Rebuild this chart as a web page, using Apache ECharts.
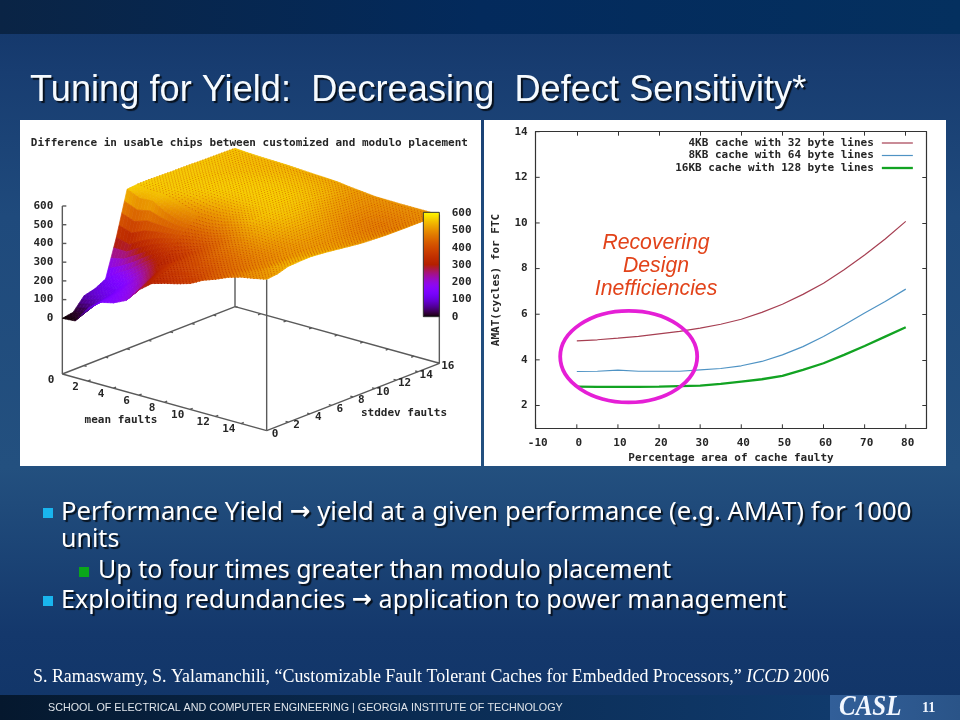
<!DOCTYPE html>
<html><head><meta charset="utf-8">
<style>html,body{margin:0;padding:0;background:#123a6e}#c{width:960px;height:720px}</style>
<script src="https://cdn.jsdelivr.net/npm/echarts@6/dist/echarts.min.js"></script>
</head><body><div id="c"></div>
<script>
// ---- right chart data
const faultPct=[0,5,10,15,20,25,30,35,40,45,50,55,60,65,70,75,80];
const amat4KB=[4.83,4.88,4.95,5.03,5.14,5.25,5.39,5.56,5.78,6.08,6.44,6.87,7.36,7.95,8.6,9.3,10.07];
const amat8KB=[3.49,3.5,3.55,3.5,3.5,3.5,3.56,3.62,3.74,3.93,4.22,4.58,5.02,5.53,6.05,6.56,7.1];
const amat16KB=[2.83,2.82,2.82,2.82,2.83,2.85,2.87,2.95,3.05,3.15,3.3,3.56,3.85,4.22,4.61,5.02,5.43];
const seriesNames=['4KB cache with 32 byte lines','8KB cache with 64 byte lines','16KB cache with 128 byte lines'];
const xTicks=[-10,0,10,20,30,40,50,60,70,80];
const yTicks=[2,4,6,8,10,12,14];
// ---- left chart data: rows are mean faults 0..16, columns stddev faults 0..16
const yieldDiff=[
[0,10,75,90,120,320,555,560,560,558,556,555,554,552,551,550,548],
[5,30,95,120,170,300,525,550,555,555,554,553,552,550,548,545,543],
[90,100,115,140,210,340,530,550,555,555,555,553,550,548,545,542,540],
[142,150,165,190,265,370,490,535,552,556,556,555,552,548,544,540,538],
[158,175,200,250,310,390,465,510,545,556,558,557,554,550,545,540,536],
[190,215,260,310,345,405,455,495,532,552,558,558,556,552,546,540,532],
[265,295,325,345,370,420,455,495,528,550,558,558,556,552,546,538,528],
[318,350,370,385,400,430,465,505,532,552,558,558,555,550,544,535,525],
[338,365,390,410,430,450,485,522,542,554,556,556,553,546,538,530,521],
[355,385,410,435,455,475,508,540,550,554,552,550,546,538,530,520,512],
[375,400,425,450,470,495,522,535,545,548,545,540,530,520,512,506,505],
[411,428,445,460,480,502,520,530,535,535,530,522,512,505,500,498,498],
[436,448,458,472,487,500,510,520,522,520,515,505,495,490,490,492,497],
[465,472,475,482,490,500,505,510,510,508,500,490,482,478,480,488,496],
[485,495,492,497,500,505,505,505,503,498,490,482,475,472,476,486,496],
[497,505,520,522,522,518,515,510,505,498,490,484,478,476,480,488,496],
[511,517,535,538,540,535,528,520,512,505,502,498,497,496,496,495,495]];
const meanTicks=[2,4,6,8,10,12,14];
const stddevTicks=[2,4,6,8,10,12,14,16];
const zTicks=[0,100,200,300,400,500,600];

const MONO='"DejaVu Sans Mono"', INK='#262626';
const ox=127,oy=762,mx=38.31,my=10.62,sx=32.4,sy=-12.63,zy=-0.5617,lift=-167;
const P=(m,s,z)=>[ox+mx*m+sx*s, oy+lift+my*m+sy*s+zy*z];
const floorP=(m,s)=>[ox+mx*m+sx*s, oy+my*m+sy*s];
function paletteRGB(v){v=Math.max(0,Math.min(1,v));
  return [Math.sqrt(v),v*v*v,Math.max(0,Math.sin(2*Math.PI*v))].map(c=>Math.round(c*255));}
const palette=v=>'rgb('+paletteRGB(v).join(',')+')';
const SUB=4;
const zAt=(m,s)=>{const i=Math.min(15,Math.floor(m)),j=Math.min(15,Math.floor(s)),a=m-i,b=s-j;
  return (1-a)*(1-b)*yieldDiff[i][j]+a*(1-b)*yieldDiff[i+1][j]+(1-a)*b*yieldDiff[i][j+1]+a*b*yieldDiff[i+1][j+1];};
const cells=[];
for(let m=0;m<16;m++)for(let s=15;s>=0;s--)cells.push([m,s]);

function line(api,a,b,w,c){const p=api.coord(a),q=api.coord(b);
  return {type:'line',shape:{x1:p[0],y1:p[1],x2:q[0],y2:q[1]},style:{stroke:c||'#5a5a5a',lineWidth:w||1.4}};}
function label(api,t,at,align,size){const p=api.coord(at);
  return {type:'text',x:p[0],y:p[1],style:{text:String(t),fill:INK,font:'bold '+(size||11)+'px '+MONO,align:align||'center',verticalAlign:'middle'}};}

function renderFrame(params,api){
  const ch=[];
  const C=[floorP(0,0),floorP(16,0),floorP(16,16),floorP(0,16)];
  for(let i=0;i<4;i++)ch.push(line(api,C[i],C[(i+1)%4]));
  meanTicks.forEach(m=>{
    const a=floorP(m,0);ch.push(line(api,a,[a[0]+8,a[1]-3.2]));
    const b=floorP(m,16);ch.push(line(api,b,[b[0]-8,b[1]+3.2]));
    ch.push(label(api,m,[a[0]-37,a[1]+18]));});
  stddevTicks.forEach(s=>{
    const a=floorP(0,s);ch.push(line(api,a,[a[0]+8,a[1]+2.2]));
    const b=floorP(16,s);ch.push(line(api,b,[b[0]-8,b[1]-2.2]));
    ch.push(label(api,s,[b[0]+25,b[1]+10]));});
  ch.push(label(api,0,[93,780]),label(api,0,[765,943]));
  ch.push(line(api,[127,762],[127,258]),line(api,[740,932],[740,478]),line(api,[1258,730],[1258,285]),line(api,[645,560],[645,468]));
  zTicks.forEach(z=>{const p=[127,595+zy*z];ch.push(line(api,p,[p[0]+12,p[1]]));ch.push(label(api,z,[100,p[1]],'right'));});
  ch.push(label(api,'mean faults',[303,900]),label(api,'stddev faults',[1152,878]));
  ch.push(label(api,'Difference in usable chips between customized and modulo placement',[688,68]));
  return {type:'group',children:ch};
}
function renderSurface(params,api){
  const m0=api.value(0),s0=api.value(1),ch=[];
  for(let a=0;a<SUB;a++)for(let b=SUB-1;b>=0;b--){
    const q=[[a,b],[a+1,b],[a+1,b+1],[a,b+1]].map(([u,v])=>{const m=m0+u/SUB,s=s0+v/SUB;return [m,s,zAt(m,s)];});
    const pts=q.map(([m,s,z])=>api.coord(P(m,s,z)));
    const zm=(q[0][2]+q[1][2]+q[2][2]+q[3][2])/4,col=palette(zm/600);
    ch.push({type:'polygon',shape:{points:pts},style:{fill:col,stroke:col,lineWidth:0.7}});
  }
  return {type:'group',children:ch};
}
function renderDots(params,api){
  const m0=api.value(0),s0=api.value(1),ch=[];
  if((m0<5&&s0<7)||(m0<7&&s0<3))return {type:'group',children:ch};
  for(let a=0;a<SUB;a++)for(let b=0;b<SUB;b++){
    const m=m0+a/SUB,s=s0+b/SUB,z=zAt(m,s),p=api.coord(P(m,s,z)),c=paletteRGB(z/600);
    ch.push({type:'rect',shape:{x:p[0]-.5,y:p[1]-.5,width:1,height:1},
      style:{fill:'rgb('+Math.round(c[0]*.9)+','+Math.round(c[1]*.65)+','+c[2]+')'}});
  }
  return {type:'group',children:ch};
}
function renderBar(params,api){
  const tl=api.coord([1210,277]),br=api.coord([1258,590]);
  const stops=[];for(let i=0;i<=40;i++)stops.push({offset:i/40,color:palette(1-i/40)});
  const ch=[{type:'rect',shape:{x:tl[0],y:tl[1],width:br[0]-tl[0],height:br[1]-tl[1]},
    style:{fill:new echarts.graphic.LinearGradient(0,0,0,1,stops),stroke:'#333',lineWidth:1}}];
  zTicks.forEach(z=>{const y=590-(z/600)*310;ch.push(label(api,z,[1295,y],'left'));});
  return {type:'group',children:ch};
}
// inward tick marks along the bottom and left edges of the line chart
function renderInnerTicks(params,api){
  const ch=[],TL=4;
  const mark=(p,dx,dy)=>({type:'line',shape:{x1:p[0],y1:p[1],x2:p[0]+dx,y2:p[1]+dy},style:{stroke:'#333',lineWidth:1}});
  xTicks.forEach(x=>ch.push(mark(api.coord([x,1]),0,-TL)));
  yTicks.forEach(y=>ch.push(mark(api.coord([-10,y]),TL,0)));
  return {type:'group',children:ch};
}

const slideText={
 title:'Tuning for Yield:  Decreasing  Defect Sensitivity*',
 b1b:'units',
 b2:'Up to four times greater than modulo placement',
 foot:'SCHOOL OF ELECTRICAL AND COMPUTER ENGINEERING | GEORGIA INSTITUTE OF TECHNOLOGY',
 note:'Recovering\nDesign\nInefficiencies'};
const SHADOW={textShadowColor:'rgba(0,0,0,0.75)',textShadowOffsetX:2,textShadowOffsetY:2,textShadowBlur:1};
const T=(text,x,y,font,extra,scale)=>({type:'text',x,y,scaleX:scale||1,z:10,silent:true,style:Object.assign({text,fill:'#fff',font,verticalAlign:'middle'},extra||{})});
const R=(x,y,w,h,fill,z)=>({type:'rect',shape:{x,y,width:w,height:h},z:z===undefined?-5:z,silent:true,style:{fill}});
const G=(a,b,c,d,stops)=>new echarts.graphic.LinearGradient(a,b,c,d,stops);
const BODY='"Noto Sans"';
const arrowRich={t:Object.assign({fill:'#fff',font:'25px '+BODY},SHADOW),r:Object.assign({fill:'#fff',font:'bold 24px "DejaVu Sans"'},SHADOW)};
const RT=(text,x,y,sx)=>({type:'text',x,y,scaleX:sx||1,z:10,silent:true,style:{text,verticalAlign:'middle',rich:arrowRich}});

const graphics=[
 R(0,0,960,720,G(0,0,0,1,[{offset:0,color:'#123568'},{offset:.1,color:'#183d71'},{offset:.3,color:'#1f4a7c'},{offset:.65,color:'#23507f'},{offset:.88,color:'#14386c'},{offset:1,color:'#113568'}]),-10),
 R(0,0,960,34,G(0,0,1,0,[{offset:0,color:'#0a2445'},{offset:.5,color:'#032a5c'},{offset:1,color:'#04305f'}]),-9),
 R(0,695,830,25,G(0,0,1,0,[{offset:0,color:'#05182e'},{offset:.5,color:'#0a2b52'},{offset:1,color:'#103a6c'}]),-9),
 R(830,695,130,25,G(0,0,1,0,[{offset:0,color:'#325f99'},{offset:1,color:'#2a5488'}]),-9),
 R(20,120,461,346,'#ffffff',-8),
 R(484,120,462,346,'#ffffff',-8),
 T(slideText.title,30,91.5,'36px "Liberation Sans"',Object.assign({fill:'#f6fbff'},SHADOW),1.006),
 R(43,508,10,10,'#19b5ee',9),
 RT('{t|Performance Yield }{r|\u2192}{t| yield at a given performance (e.g. AMAT) for 1000}',61,513,1.03),
 T(slideText.b1b,61,540,'25px '+BODY,SHADOW),
 R(79,567,10,10,'#0aa61a',9),
 T(slideText.b2,98,571,'25px '+BODY,SHADOW),
 R(43,596,10,10,'#19b5ee',9),
 RT('{t|Exploiting redundancies }{r|\u2192}{t| application to power management}',61,601,1.005),
 {type:'text',x:33,y:677,z:10,silent:true,style:{verticalAlign:'middle',
   text:'{a|S. Ramaswamy, S. Yalamanchili, \u201cCustomizable Fault Tolerant Caches for Embedded Processors,\u201d }{b|ICCD}{a| 2006}',
   rich:{a:{fill:'#fff',font:'17.9px "Liberation Serif"'},b:{fill:'#fff',font:'italic 17.9px "Liberation Serif"'}}}},
 T(slideText.foot,48,708,'10.75px "Liberation Sans"',{fill:'#dfe4ea'}),
 T('CASL',839,708,'italic bold 29px "Liberation Serif"',{fill:'#f2f7ff',textShadowColor:'rgba(0,0,30,.8)',textShadowOffsetX:1.5,textShadowOffsetY:1.5},0.86),
 T('11',922,708,'bold 14px "Liberation Serif"',{fill:'#f2f7ff'}),
 T(slideText.note,656,266,'italic 21.2px "Liberation Sans"',{fill:'#e2431a',align:'center',lineHeight:23}),
 {type:'ellipse',shape:{cx:628.7,cy:356.6,rx:68.5,ry:45.8},z:11,silent:true,style:{fill:'none',stroke:'#e51fd6',lineWidth:3.8}}
];

const axisFont={color:INK,fontFamily:MONO,fontWeight:'bold',fontSize:11};
const axisLine={show:true,onZero:false,lineStyle:{color:'#333',width:1.2}};
const tick=(vals)=>({show:true,inside:true,length:4,customValues:vals,lineStyle:{color:'#333',width:1}});
const legendLine=(name,width)=>({name,lineStyle:{width}});

const option={
 animation:false,
 graphic:graphics,
 grid:[{left:535.7,top:131.7,width:390.6,height:296.6},{left:20,top:120,width:462,height:346}],
 legend:{orient:'vertical',align:'right',right:46,top:137.5,padding:0,itemWidth:31,itemHeight:12.5,itemGap:1.5,
   data:[legendLine(seriesNames[0],1.2),legendLine(seriesNames[1],1.2),legendLine(seriesNames[2],2.3)],
   textStyle:Object.assign({padding:[0,3,0,0]},axisFont),selectedMode:false,itemStyle:{opacity:0}},
 xAxis:[
  {type:'value',gridIndex:0,min:-10,max:85,position:'bottom',splitLine:{show:false},axisLine,axisTick:{show:false},
   axisLabel:Object.assign({customValues:xTicks,margin:9,padding:[0,0,0,4]},axisFont),
   name:'Percentage area of cache faulty',nameLocation:'middle',nameGap:24,nameTextStyle:axisFont},
  {type:'value',gridIndex:0,min:-10,max:85,position:'top',splitLine:{show:false},axisLine,axisTick:tick(xTicks),axisLabel:{show:false}},
  {type:'value',gridIndex:1,min:0,max:1386,show:false}],
 yAxis:[
  {type:'value',gridIndex:0,min:1,max:14,position:'left',splitLine:{show:false},axisLine,axisTick:{show:false},
   axisLabel:Object.assign({customValues:yTicks,margin:8},axisFont),
   name:'AMAT(cycles) for FTC',nameLocation:'middle',nameGap:34,nameRotate:90,nameTextStyle:axisFont},
  {type:'value',gridIndex:0,min:1,max:14,position:'right',splitLine:{show:false},axisLine,axisTick:tick(yTicks),axisLabel:{show:false}},
  {type:'value',gridIndex:1,min:0,max:1038,inverse:true,show:false}],
 series:[
  {name:seriesNames[0],type:'line',xAxisIndex:0,yAxisIndex:0,showSymbol:false,symbol:'none',data:faultPct.map((x,i)=>[x,amat4KB[i]]),lineStyle:{color:'#a63f52',width:1.2},itemStyle:{color:'#a63f52'}},
  {name:seriesNames[1],type:'line',xAxisIndex:0,yAxisIndex:0,showSymbol:false,symbol:'none',data:faultPct.map((x,i)=>[x,amat8KB[i]]),lineStyle:{color:'#4f93c4',width:1.2},itemStyle:{color:'#4f93c4'}},
  {name:seriesNames[2],type:'line',xAxisIndex:0,yAxisIndex:0,showSymbol:false,symbol:'none',data:faultPct.map((x,i)=>[x,amat16KB[i]]),lineStyle:{color:'#12a322',width:2.3},itemStyle:{color:'#12a322'}},
  {type:'custom',xAxisIndex:0,yAxisIndex:0,z:3,silent:true,clip:false,data:[[0,1]],renderItem:renderInnerTicks},
  {type:'custom',xAxisIndex:2,yAxisIndex:2,z:3,silent:true,clip:false,data:[[0,0]],renderItem:renderFrame},
  {type:'custom',xAxisIndex:2,yAxisIndex:2,z:4,silent:true,clip:false,progressive:0,data:cells,renderItem:renderSurface},
  {type:'custom',xAxisIndex:2,yAxisIndex:2,z:5,silent:true,clip:false,progressive:0,data:cells,renderItem:renderDots},
  {type:'custom',xAxisIndex:2,yAxisIndex:2,z:6,silent:true,clip:false,data:[[0,0]],renderItem:renderBar}
 ]
};
const chart=echarts.init(document.getElementById('c'),null,{renderer:'canvas',width:960,height:720});
chart.setOption(option);
</script></body></html>
